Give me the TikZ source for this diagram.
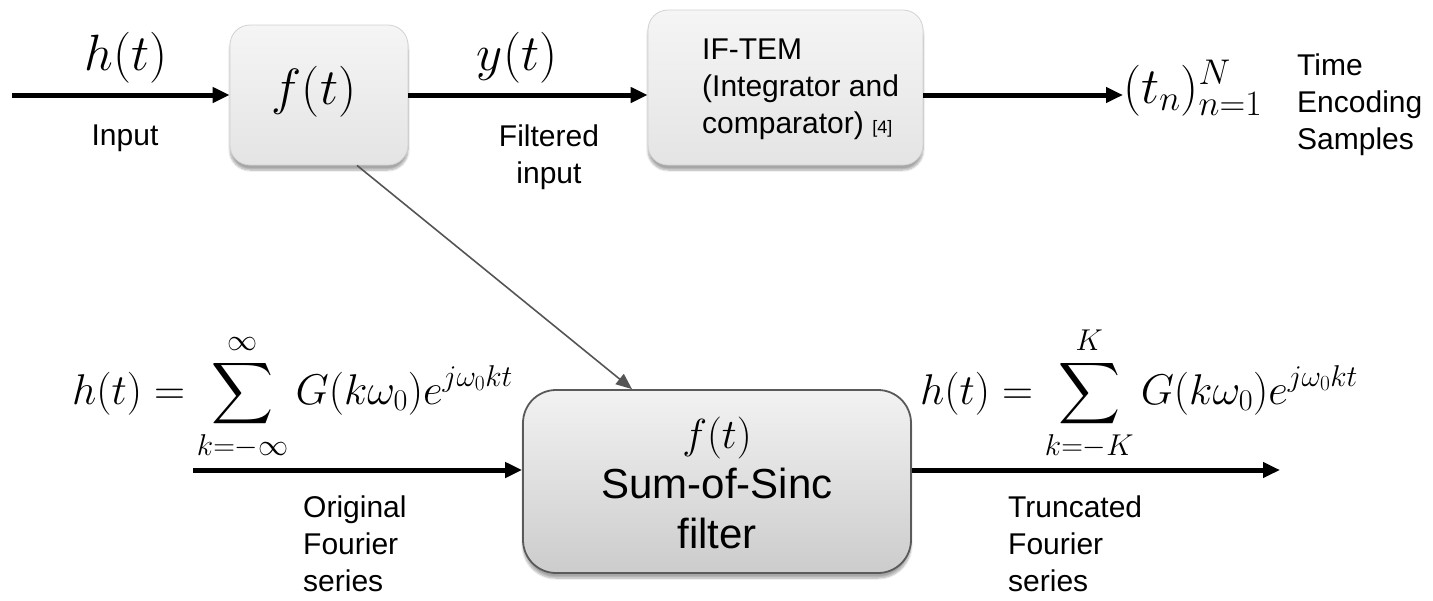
\RequirePackage{fix-cm}
\documentclass[tikz,border=0pt]{standalone}
\DeclareFontShape{OMX}{cmex}{m}{n}{<-> cmex10}{}
\usepackage{fontspec}
\setmainfont{Liberation Sans}
\usetikzlibrary{arrows.meta,calc,shadows.blur}
\definecolor{boxtop}{HTML}{F5F5F5}
\definecolor{boxbot}{HTML}{E4E4E4}
\definecolor{boxedge}{HTML}{D2D2D2}
\definecolor{bigtop}{HTML}{F2F2F2}
\definecolor{bigbot}{HTML}{CCCCCC}
\definecolor{bigedge}{HTML}{5A5A5A}
\definecolor{diag}{HTML}{555555}
\newcommand\txtsz{\fontsize{30}{37}\selectfont}
\newcommand\topmath{\fontsize{51}{60}\selectfont}
\newcommand\eqsz{\fontsize{43}{52}\selectfont}
\tikzset{
  smallbox/.style={rounded corners=20pt, draw=boxedge, line width=0.8pt,
    top color=boxtop, bottom color=boxbot, inner sep=0pt,
    blur shadow={shadow blur steps=8, shadow xshift=0pt, shadow yshift=-5pt, shadow opacity=35, shadow blur extra rounding=2pt}},
  bigbox/.style={rounded corners=33pt, draw=bigedge, line width=1.8pt,
    top color=bigtop, bottom color=bigbot, inner sep=0pt,
    blur shadow={shadow blur steps=8, shadow xshift=0pt, shadow yshift=-5pt, shadow opacity=35}},
  flow/.style={line width=5pt, -{Triangle[length=17pt,width=15pt]}},
  thin arrow/.style={draw=diag, line width=1.6pt, -{Triangle[length=16pt,width=13pt]}, color=diag},
  lbl/.style={inner sep=0pt, font=\txtsz},
  mlbl/.style={inner sep=0pt},
}
\begin{document}
\begin{tikzpicture}[x=1pt,y=-1pt]
\useasboundingbox (0,0) rectangle (1433,600);
% boxes
\node[smallbox, minimum width=178pt, minimum height=140pt] (b1) at (319,95) {};
\node[mlbl] (b1t) at (314,92) {\topmath$f(t)$};
\node[smallbox, minimum width=275pt, minimum height=155pt] (b2) at (785.5,87.5) {};
\node[lbl, anchor=north west, align=left] (b2t) at (702,38.5)
  {IF-TEM\\(Integrator and\\comparator) {\fontsize{18}{20}\selectfont[4]}};
\node[bigbox, minimum width=388pt, minimum height=183pt] (b3) at (717,481.5) {};
\node[inner sep=0pt, align=center, font=\fontsize{42}{50}\selectfont] (b3t) at (717,483)
  {$f(t)$\\Sum-of-Sinc\\filter};
% top row
\coordinate (in) at (12,95);
\draw[flow] (in) -- (in -| b1.west);
\node[mlbl, anchor=base] (hl) at (126,70) {\topmath$h(t)$};
\node[lbl, anchor=base] (inl) at (125,145) {Input};
\draw[flow] (b1.east |- in) -- (in -| b2.west);
\node[mlbl, anchor=base] (yl) at (517,70) {\topmath$y(t)$};
\node[lbl, anchor=north, align=center] (fil) at (549,124.5) {Filtered\\input};
\node[mlbl, anchor=base west] (tn) at (1123,103) {\topmath$(t_n)_{n=1}^N$};
\draw[flow] (b2.east |- in) -- (in -| tn.west);
\node[lbl, anchor=north west, align=left] (tes) at (1297,53.5) {Time\\Encoding\\Samples};
% diagonal
\draw[thin arrow] ($(b1.south)+(38,0)$) -- ($(b3.north)+(-85,0)$);
% bottom row
\node[mlbl, anchor=base west] (eqL) at (72,404)
  {\eqsz$\displaystyle h(t) = \sum_{k=-\infty}^{\infty} G(k\omega_0)e^{j\omega_0 kt}$};
\node[mlbl, anchor=base west] (eqR) at (920,404)
  {\eqsz$\displaystyle h(t) = \sum_{k=-K}^{K} G(k\omega_0)e^{j\omega_0 kt}$};
\coordinate (la) at (193,470);
\coordinate (ra) at (1280,470);
\draw[flow] (la) -- (la -| b3.west);
\draw[flow] (b3.east |- la) -- (ra);
\node[lbl, anchor=north west, align=left] (ofs) at (303,495.5) {Original\\Fourier\\series};
\node[lbl, anchor=north west, align=left] (tfs) at (1008,495.5) {Truncated\\Fourier\\series};
\end{tikzpicture}
\end{document}
